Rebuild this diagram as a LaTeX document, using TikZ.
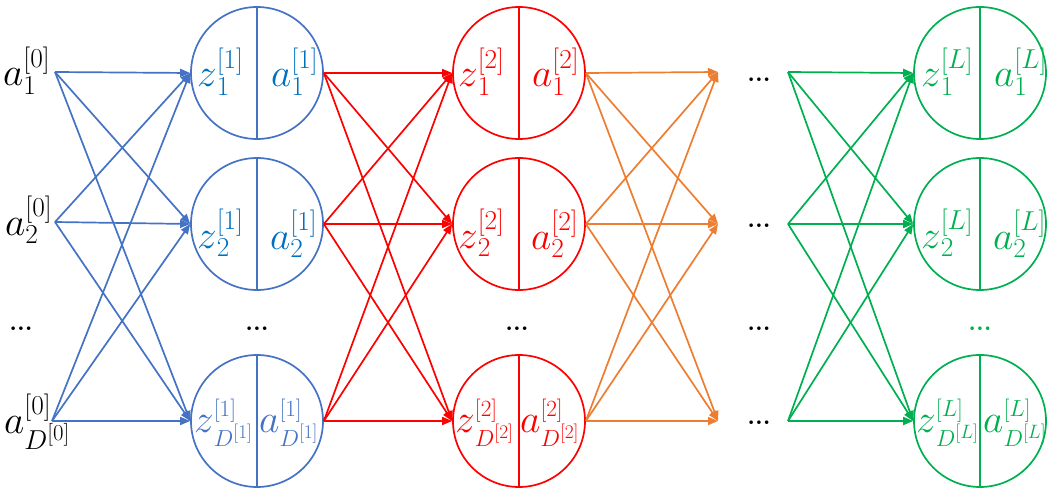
\documentclass[tikz,border=0pt]{standalone}
\usepackage{fix-cm}
\usepackage{graphicx}
\usetikzlibrary{arrows.meta}
\definecolor{cblue}{HTML}{4472C4}
\definecolor{ctblue}{HTML}{0070C0}
\definecolor{cred}{HTML}{FF0000}
\definecolor{corange}{HTML}{ED7D31}
\definecolor{cgreen}{HTML}{00B050}
\newcommand{\lbl}[3]{\scalebox{1.32}{$\scalebox{1.2}{$#1$}_{#2}^{#3}$}}
\newcommand{\lbls}[3]{\scalebox{1.12}{$\scalebox{1.42}{$#1$}_{#2}^{#3}$}}
\tikzset{
  neuron/.style={circle, draw=#1, line width=1.7pt, minimum size=132pt, inner sep=0pt},
  conn/.style={draw=#1, line width=1.7pt, -{Triangle[length=10pt,width=8pt]}},
  lab/.style={anchor=base west, inner sep=0pt, text=#1, font=\fontsize{24.88}{30}\selectfont},
  dotsnode/.style={anchor=base, inner sep=0pt, text=#1, font=\bfseries\fontsize{24.88}{28}\selectfont},
}
\begin{document}
\begin{tikzpicture}[x=1pt,y=-1pt]
\useasboundingbox (0,0) rectangle (1057,497);
% layer 0 labels
\node[lab=black] (l01) at (3,86) {\lbl{a}{1}{[0]}};
\node[lab=black] (l02) at (5,235) {\lbl{a}{2}{[0]}};
\node[lab=black] (l03) at (4,433) {\lbl{a}{D^{[0]}}{[0]}};
\coordinate (s1) at (55,72);
\coordinate (s2) at (55,222);
\coordinate (s3) at (52,421);
% circles
\foreach \L/\cx/\col in {1/257/cblue, 2/519/cred, L/980/cgreen}{
  \node[neuron=\col] (n\L1) at (\cx,73) {};
  \node[neuron=\col] (n\L2) at (\cx,224) {};
  \node[neuron=\col] (n\L3) at (\cx,421) {};
  \foreach \r in {1,2,3}{\draw[draw=\col, line width=1.7pt] (n\L\r.north) -- (n\L\r.south);}
}
% layer 1 labels
\node[lab=ctblue] (z11) at (197,87) {\lbl{z}{1}{[1]}};
\node[lab=ctblue] (a11) at (271,87) {\lbl{a}{1}{[1]}};
\node[lab=ctblue] (z12) at (197,248) {\lbl{z}{2}{[1]}};
\node[lab=ctblue] (a12) at (270,249) {\lbl{a}{2}{[1]}};
\node[lab=cblue] (z13) at (194,432) {\lbls{z}{D^{[1]}}{[1]}};
\node[lab=cblue] (a13) at (259,432) {\lbls{a}{D^{[1]}}{[1]}};
% layer 2 labels
\node[lab=cred] (z21) at (458,87) {\lbl{z}{1}{[2]}};
\node[lab=cred] (a21) at (532,87) {\lbl{a}{1}{[2]}};
\node[lab=cred] (z22) at (458,248) {\lbl{z}{2}{[2]}};
\node[lab=cred] (a22) at (531,249) {\lbl{a}{2}{[2]}};
\node[lab=cred] (z23) at (455,432) {\lbls{z}{D^{[2]}}{[2]}};
\node[lab=cred] (a23) at (520,432) {\lbls{a}{D^{[2]}}{[2]}};
% layer L labels
\node[lab=cgreen] (zL1) at (921,87) {\lbl{z}{1}{[L]}};
\node[lab=cgreen] (aL1) at (994,87) {\lbl{a}{1}{[L]}};
\node[lab=cgreen] (zL2) at (921,248) {\lbl{z}{2}{[L]}};
\node[lab=cgreen] (aL2) at (993,249) {\lbl{a}{2}{[L]}};
\node[lab=cgreen] (zL3) at (916,432) {\lbls{z}{D^{[L]}}{[L]}};
\node[lab=cgreen] (aL3) at (983,432) {\lbls{a}{D^{[L]}}{[L]}};
% open ends
\coordinate (o1) at (718,72);
\coordinate (o2) at (718,224);
\coordinate (o3) at (718,421);
\coordinate (g1) at (788,72);
\coordinate (g2) at (788,224);
\coordinate (g3) at (788,421);
% dots
\node[dotsnode=black] (d0) at (21,330) {...};
\node[dotsnode=black] (d1) at (257,330) {...};
\node[dotsnode=black] (d2) at (517,330) {...};
\node[dotsnode=black] (dm1) at (759,82) {...};
\node[dotsnode=black] (dm2) at (759,227) {...};
\node[dotsnode=black] (dm3) at (759,330) {...};
\node[dotsnode=black] (dm4) at (759,424) {...};
\node[dotsnode=cgreen] (dL) at (980,330) {...};
% connectors
\foreach \i in {1,2,3}{
  \foreach \j in {1,2,3}{
    \draw[conn=cblue] (s\i) -- (n1\j.west);
    \draw[conn=cred] (n1\i.east) -- (n2\j.west);
    \draw[conn=corange] (n2\i.east) -- (o\j);
    \draw[conn=cgreen] (g\i) -- (nL\j.west);
  }
}
\end{tikzpicture}
\end{document}
